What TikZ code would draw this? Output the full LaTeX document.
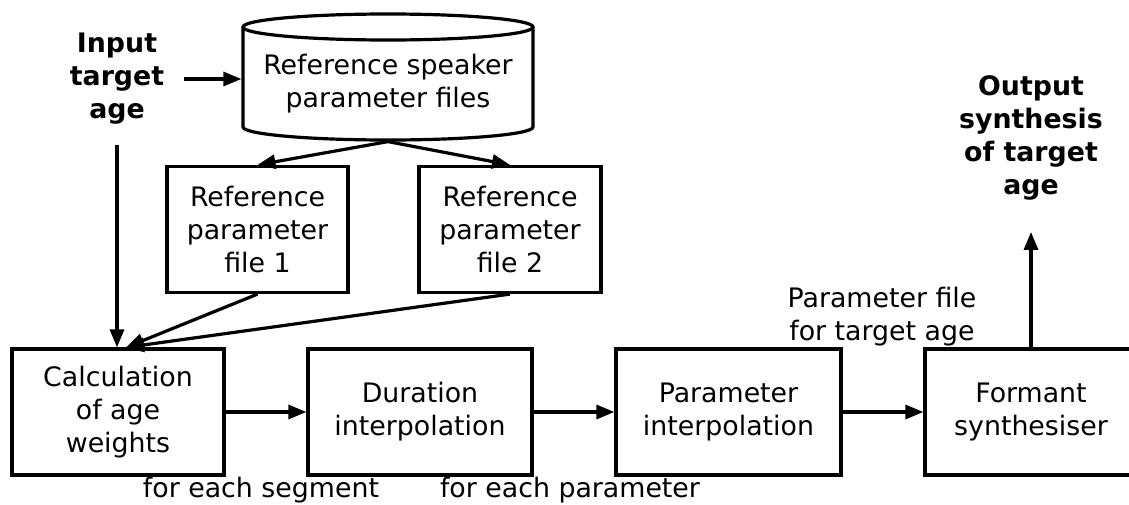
\documentclass[tikz,border=0pt]{standalone}
\usepackage{fontspec}
\setmainfont{DejaVu Sans}
\usetikzlibrary{arrows.meta}
\begin{document}
\begin{tikzpicture}[x=0.5pt,y=-0.5pt,line width=1.6pt,
  font=\fontsize{13.4pt}{16.5pt}\selectfont,
  box/.style={draw,align=center,minimum height=63pt,inner sep=0pt},
  bold/.style={align=center,font=\fontsize{13.4pt}{16.5pt}\selectfont\bfseries},
  arr/.style={-{Triangle[length=9pt,width=7pt]}}]
\useasboundingbox (0,0) rectangle (1129,504);
\clip (0,0) rectangle (1129,504);
\node[bold,inner xsep=9pt,inner ysep=9.5pt] (inlab) at (117,79) {Input\\target\\age};
\node[align=center,minimum width=145pt,minimum height=56pt] (db) at (388,84) {Reference speaker\\parameter files};
\draw (388,27) ellipse [x radius=145,y radius=13];
\draw (243,27) -- (243,127) arc [start angle=180,end angle=0,x radius=145,y radius=13] -- (533,27);
\node[box,minimum width=90.5pt] (ref1) at (257.5,229.5) {Reference\\parameter\\file 1};
\node[box,minimum width=91pt] (ref2) at (510,229.5) {Reference\\parameter\\file 2};
\node[box,minimum width=106pt] (calc) at (118,412) {Calculation\\of age\\weights};
\node[box,minimum width=112pt] (dur) at (420,412) {Duration\\interpolation};
\node[box,minimum width=112.5pt] (par) at (728.5,412) {Parameter\\interpolation};
\node[box,minimum width=106pt] (form) at (1031,412) {Formant\\synthesiser};
\node[align=center] (pflab) at (882,317) {Parameter file\\for target age};
\node[bold,inner ysep=15pt] (outlab) at (1031,138) {Output\\synthesis\\of target\\age};
\node[anchor=base] (segl) at (261,497) {for each segment};
\node[anchor=base] (parl) at (570,497) {for each parameter};
\coordinate (calcin) at ([xshift=4pt]calc.north);
\draw[arr] (inlab) -- (inlab -| db.west);
\draw[arr] (db.south) -- (ref1.north);
\draw[arr] (db.south) -- (ref2.north);
\draw[arr] (inlab) -- (inlab |- calc.north);
\draw[arr] (ref1.south) -- (calcin);
\draw[arr] (ref2.south) -- (calcin);
\draw[arr] (calc) -- (dur);
\draw[arr] (dur) -- (par);
\draw[arr] (par) -- (form);
\draw[arr] (form) -- (outlab);
\end{tikzpicture}
\end{document}
